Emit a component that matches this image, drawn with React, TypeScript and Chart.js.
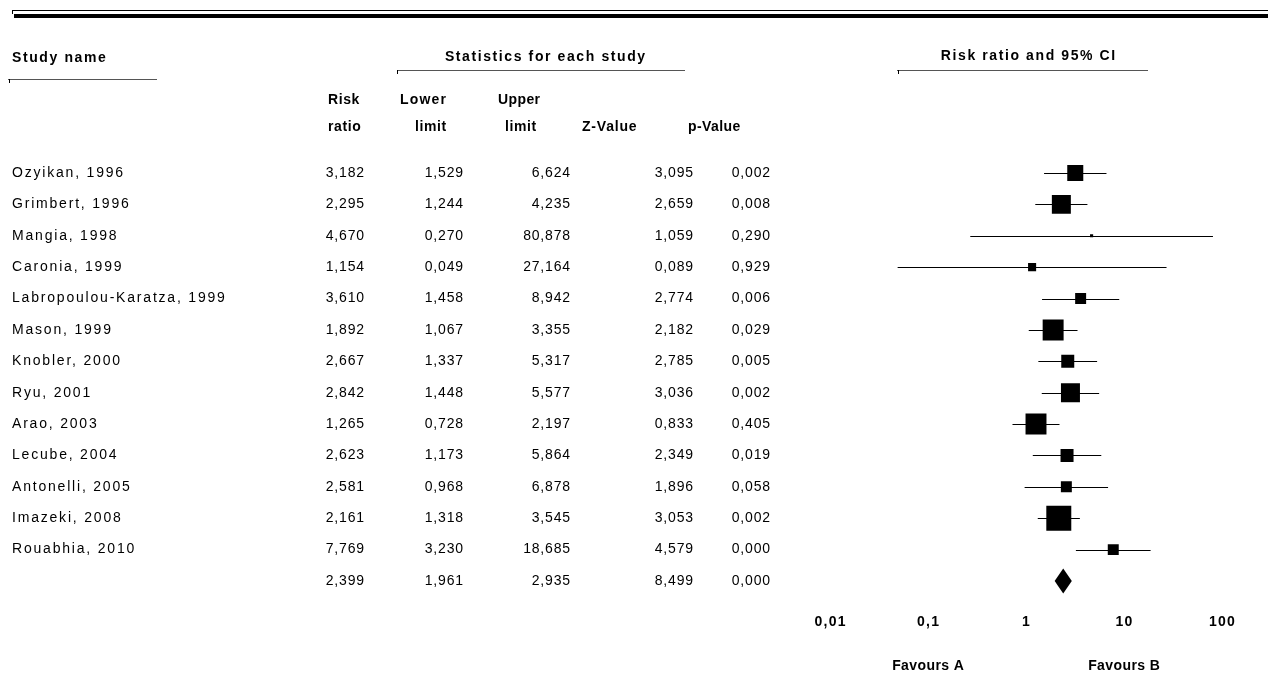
import React, { useEffect, useRef } from 'react';
import { Chart, registerables } from 'chart.js';

Chart.register(...registerables);

const studyNames = [
  'Ozyikan, 1996', 'Grimbert, 1996', 'Mangia, 1998', 'Caronia, 1999',
  'Labropoulou-Karatza, 1999', 'Mason, 1999', 'Knobler, 2000', 'Ryu, 2001',
  'Arao, 2003', 'Lecube, 2004', 'Antonelli, 2005', 'Imazeki, 2008', 'Rouabhia, 2010',
];
const riskRatio = [3.182, 2.295, 4.670, 1.154, 3.610, 1.892, 2.667, 2.842, 1.265, 2.623, 2.581, 2.161, 7.769];
const lowerLimit = [1.529, 1.244, 0.270, 0.049, 1.458, 1.067, 1.337, 1.448, 0.728, 1.173, 0.968, 1.318, 3.230];
const upperLimit = [6.624, 4.235, 80.878, 27.164, 8.942, 3.355, 5.317, 5.577, 2.197, 5.864, 6.878, 3.545, 18.685];
const zValue = [3.095, 2.659, 1.059, 0.089, 2.774, 2.182, 2.785, 3.036, 0.833, 2.349, 1.896, 3.053, 4.579];
const pValue = [0.002, 0.008, 0.290, 0.929, 0.006, 0.029, 0.005, 0.002, 0.405, 0.019, 0.058, 0.002, 0.000];
// relative weights (%)
const relWeight = [7.9, 11.1, 0.3, 2.0, 3.7, 13.5, 5.2, 11.1, 13.5, 5.2, 3.7, 19.2, 3.7];

const summaryRR = 2.399;
const summaryLower = 1.961;
const summaryUpper = 2.935;
const summaryZ = 8.499;
const summaryP = 0.000;

const xTicks = [0.01, 0.1, 1, 10, 100];
const xTickLabels = ['0,01', '0,1', '1', '10', '100'];

const W = 1268;
const H = 677;
const FONT = "'Liberation Sans', Arial, sans-serif";

const fmt = (v: number) => v.toFixed(3).replace('.', ',');

function drawText(ctx: CanvasRenderingContext2D, text: string, x: number, y: number, align: CanvasTextAlign, bold: boolean, spacing: number) {
  ctx.save();
  ctx.font = `${bold ? 'bold ' : ''}14px ${FONT}`;
  (ctx as any).letterSpacing = `${spacing}px`;
  ctx.fillStyle = '#000';
  ctx.textBaseline = 'middle';
  let w = ctx.measureText(text).width;
  let sx = x;
  if (align === 'right') sx = x - w + spacing;
  else if (align === 'center') sx = x - (w - spacing) / 2;
  ctx.textAlign = 'left';
  ctx.fillText(text, sx, y);
  ctx.restore();
}

function hLine(ctx: CanvasRenderingContext2D, x1: number, x2: number, y: number, color: string, width: number) {
  ctx.save();
  ctx.strokeStyle = color;
  ctx.lineWidth = width;
  ctx.beginPath();
  ctx.moveTo(x1, y);
  ctx.lineTo(x2, y);
  ctx.stroke();
  ctx.restore();
}

const forestPlugin = {
  id: 'forestTable',
  beforeDatasetsDraw(chart: any) {
    const ctx = chart.ctx as CanvasRenderingContext2D;
    const xs = chart.scales.x;
    const ys = chart.scales.y;
    // confidence intervals
    ctx.save();
    ctx.strokeStyle = '#000';
    ctx.lineWidth = 1;
    for (let i = 0; i < riskRatio.length; i++) {
      const y = Math.round(ys.getPixelForValue(i)) + 0.5;
      const x1 = xs.getPixelForValue(Math.max(lowerLimit[i], xs.min));
      const x2 = xs.getPixelForValue(Math.min(upperLimit[i], xs.max));
      ctx.beginPath();
      ctx.moveTo(x1, y);
      ctx.lineTo(x2, y);
      ctx.stroke();
    }
    ctx.restore();
  },
  afterDatasetsDraw(chart: any) {
    const ctx = chart.ctx as CanvasRenderingContext2D;
    const xs = chart.scales.x;
    const ys = chart.scales.y;

    // summary diamond
    const sy = ys.getPixelForValue(studyNames.length);
    const half = (ys.getPixelForValue(0.4) - ys.getPixelForValue(0));
    ctx.save();
    ctx.fillStyle = '#000';
    ctx.beginPath();
    ctx.moveTo(xs.getPixelForValue(summaryLower), sy);
    ctx.lineTo(xs.getPixelForValue(summaryRR), sy - half);
    ctx.lineTo(xs.getPixelForValue(summaryUpper), sy);
    ctx.lineTo(xs.getPixelForValue(summaryRR), sy + half);
    ctx.closePath();
    ctx.fill();
    ctx.restore();

    // top rules
    hLine(ctx, 12, W, 10.5, '#000', 1);
    ctx.save();
    ctx.fillStyle = '#000';
    ctx.fillRect(14, 14, W - 14, 4);
    ctx.fillRect(12, 10, 1, 4);
    ctx.restore();

    // group headers
    drawText(ctx, 'Study name', 12, 58, 'left', true, 1.6);
    hLine(ctx, 8, 157, 79.5, '#555', 1);
    drawText(ctx, 'Statistics for each study', 545, 57, 'center', true, 1.6);
    hLine(ctx, 397, 685, 70.5, '#555', 1);
    drawText(ctx, 'Risk ratio and 95% CI', 1028, 56, 'center', true, 1.6);
    hLine(ctx, 897, 1148, 70.5, '#555', 1);
    ctx.save();
    ctx.fillStyle = '#000';
    ctx.fillRect(9, 79, 1, 4);
    ctx.fillRect(397, 70, 1, 4);
    ctx.fillRect(898, 70, 1, 4);
    ctx.restore();

    // column headers
    drawText(ctx, 'Risk', 328, 100, 'left', true, 0.6);
    drawText(ctx, 'ratio', 328, 127, 'left', true, 0.6);
    drawText(ctx, 'Lower', 400, 100, 'left', true, 1.2);
    drawText(ctx, 'limit', 415, 127, 'left', true, 0.6);
    drawText(ctx, 'Upper', 498, 100, 'left', true, 0.4);
    drawText(ctx, 'limit', 505, 127, 'left', true, 0.6);
    drawText(ctx, 'Z-Value', 582, 127, 'left', true, 0.8);
    drawText(ctx, 'p-Value', 688, 127, 'left', true, 0.4);

    // rows
    const colRight = [364, 463, 570, 693, 770];
    for (let i = 0; i <= studyNames.length; i++) {
      const y = ys.getPixelForValue(i);
      const isSum = i === studyNames.length;
      if (!isSum) drawText(ctx, studyNames[i], 12, y, 'left', false, 1.8);
      const vals = isSum
        ? [summaryRR, summaryLower, summaryUpper, summaryZ, summaryP]
        : [riskRatio[i], lowerLimit[i], upperLimit[i], zValue[i], pValue[i]];
      vals.forEach((v, k) => drawText(ctx, fmt(v), colRight[k], y, 'right', false, 0.8));
    }

    // x tick labels
    xTicks.forEach((t, k) => {
      drawText(ctx, xTickLabels[k], xs.getPixelForValue(t), 622, 'center', true, 1.2);
    });
    drawText(ctx, 'Favours A', xs.getPixelForValue(0.1), 666, 'center', true, 0.4);
    drawText(ctx, 'Favours B', xs.getPixelForValue(10), 666, 'center', true, 0.4);
  },
};

export default function App() {
  const ref = useRef<HTMLCanvasElement | null>(null);
  useEffect(() => {
    if (!ref.current) return;
    const k = 5.7 / Math.SQRT2;
    const chart = new Chart(ref.current, {
      type: 'scatter',
      data: {
        datasets: [
          {
            label: 'Risk ratio',
            data: riskRatio.map((r, i) => ({ x: r, y: i })),
            pointStyle: 'rect',
            pointRadius: relWeight.map((w) => Math.max(1.5, k * Math.sqrt(w))),
            backgroundColor: '#000',
            borderWidth: 0,
          },
        ],
      },
      options: {
        responsive: false,
        animation: false,
        devicePixelRatio: 1,
        layout: { padding: { left: 830, right: 46, top: 141.6, bottom: 64.6 } },
        plugins: { legend: { display: false }, tooltip: { enabled: false } },
        scales: {
          x: { type: 'logarithmic', min: 0.01, max: 100, display: false },
          y: { type: 'linear', min: -1, max: 14, reverse: true, display: false },
        },
      },
      plugins: [forestPlugin],
    });
    return () => chart.destroy();
  }, []);
  return (
    <div style={{ position: 'absolute', left: 0, top: 0, width: W, height: H, background: '#fff' }}>
      <canvas ref={ref} width={W} height={H} style={{ width: W, height: H, display: 'block' }} />
    </div>
  );
}
